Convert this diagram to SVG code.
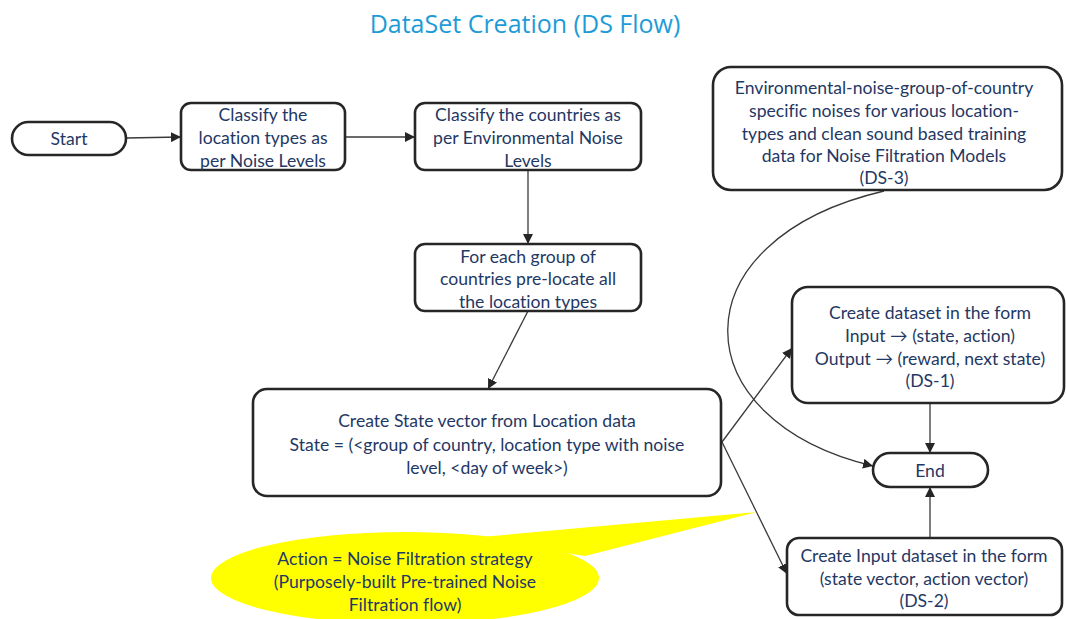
<svg xmlns="http://www.w3.org/2000/svg" width="1066" height="619" viewBox="0 0 1066 619">
  <style>
    .box { fill: #ffffff; stroke: #262626; stroke-width: 2.6; }
    .lbl { font-family: Lato, "Open Sans", "Liberation Sans", sans-serif; font-size: 17.6px; fill: #1f3864; text-anchor: middle; dominant-baseline: central; font-variant-ligatures: none; }
    .title { font-family: "Open Sans", Lato, "Liberation Sans", sans-serif; font-size: 25px; fill: #1e9bd7; text-anchor: middle; dominant-baseline: central; }
    .edge { fill: none; stroke: #3a3a3a; stroke-width: 1.3; marker-end: url(#arrow); }
    .note { fill: #ffff00; stroke: none; }
    .noteText { font-family: Lato, "Open Sans", "Liberation Sans", sans-serif; font-size: 17.6px; fill: #1f3864; text-anchor: middle; dominant-baseline: central; font-variant-ligatures: none; }
  </style>
  <defs>
    <marker id="arrow" viewBox="0 0 10 10" refX="10" refY="5" markerWidth="10" markerHeight="10" markerUnits="userSpaceOnUse" orient="auto">
      <path d="M0,0 L10,5 L0,10 z" fill="#262626"/>
    </marker>
  </defs>

  <rect width="1066" height="619" fill="#ffffff"/>

  <text class="title" x="525" y="23">DataSet Creation (DS Flow)</text>

  <!-- connectors -->
  <g id="connectors">
    <path class="edge" d="M126,138 L181,137"/>
    <path class="edge" d="M345,137 L415,137"/>
    <path class="edge" d="M528,170 L528,244"/>
    <path class="edge" d="M528,311 L488,389"/>
    <path class="edge" d="M722,442 L792,348"/>
    <path class="edge" d="M722,442 L787,574"/>
    <path class="edge" d="M930,403 L930,453"/>
    <path class="edge" d="M930,538 L930,487"/>
    <path class="edge" d="M884,191 C675,240 680,420 873,466"/>
  </g>

  <!-- yellow annotation callout -->
  <g id="note-action">
    <path class="note" d="M470,538 L757,512 L585,556 z"/>
    <ellipse class="note" cx="405" cy="578" rx="194" ry="46"/>
    <text class="noteText" x="405" y="558">Action = Noise Filtration strategy</text>
    <text class="noteText" x="405" y="581">(Purposely-built Pre-trained Noise</text>
    <text class="noteText" x="405" y="604">Filtration flow)</text>
  </g>

  <g id="start">
    <rect class="box" x="12" y="122" width="114" height="33" rx="16.5"/>
    <text class="lbl" x="69" y="138">Start</text>
  </g>

  <g id="classify-locations">
    <rect class="box" x="181" y="103" width="164" height="67" rx="10"/>
    <text class="lbl" x="263" y="114">Classify the</text>
    <text class="lbl" x="263" y="137">location types as</text>
    <text class="lbl" x="263" y="160">per Noise Levels</text>
  </g>

  <g id="classify-countries">
    <rect class="box" x="415" y="103" width="226" height="67" rx="10"/>
    <text class="lbl" x="528" y="114">Classify the countries as</text>
    <text class="lbl" x="528" y="137">per Environmental Noise</text>
    <text class="lbl" x="528" y="160">Levels</text>
  </g>

  <g id="prelocate">
    <rect class="box" x="415" y="244" width="226" height="67" rx="10"/>
    <text class="lbl" x="528" y="256">For each group of</text>
    <text class="lbl" x="528" y="278">countries pre-locate all</text>
    <text class="lbl" x="528" y="301">the location types</text>
  </g>

  <g id="state-vector">
    <rect class="box" x="253" y="389" width="468" height="107" rx="14"/>
    <text class="lbl" x="487" y="420">Create State vector from Location data</text>
    <text class="lbl" x="487" y="444">State = (&lt;group of country, location type with noise</text>
    <text class="lbl" x="487" y="467">level, &lt;day of week&gt;)</text>
  </g>

  <g id="ds3">
    <rect class="box" x="713" y="67" width="349" height="123" rx="18"/>
    <text class="lbl" x="884" y="87">Environmental-noise-group-of-country</text>
    <text class="lbl" x="884" y="110">specific noises for various location-</text>
    <text class="lbl" x="884" y="133">types and clean sound based training</text>
    <text class="lbl" x="884" y="155">data for Noise Filtration Models</text>
    <text class="lbl" x="884" y="177">(DS-3)</text>
  </g>

  <g id="ds1">
    <rect class="box" x="792" y="287" width="272" height="116" rx="16"/>
    <text class="lbl" x="930" y="312">Create dataset in the form</text>
    <text class="lbl" x="930" y="335">Input → (state, action)</text>
    <text class="lbl" x="930" y="358">Output → (reward, next state)</text>
    <text class="lbl" x="930" y="380">(DS-1)</text>
  </g>

  <g id="end">
    <rect class="box" x="873" y="453" width="115" height="34" rx="17"/>
    <text class="lbl" x="930" y="470">End</text>
  </g>

  <g id="ds2">
    <rect class="box" x="787" y="538" width="275" height="77" rx="12"/>
    <text class="lbl" x="924" y="555">Create Input dataset in the form</text>
    <text class="lbl" x="924" y="578">(state vector, action vector)</text>
    <text class="lbl" x="924" y="600">(DS-2)</text>
  </g>
</svg>
